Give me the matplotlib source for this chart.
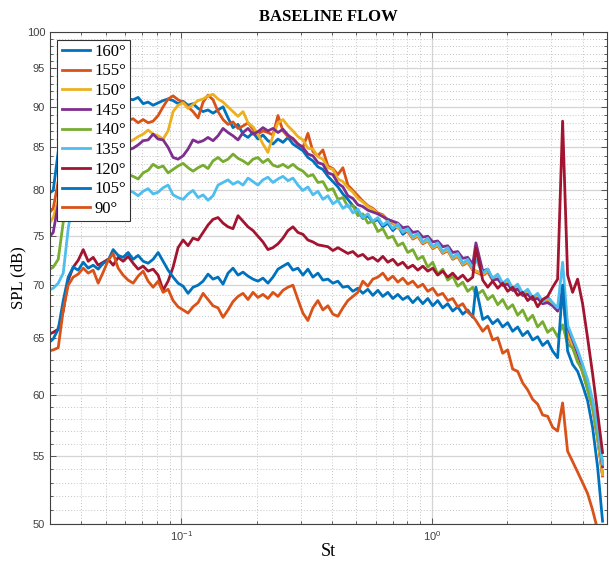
import matplotlib.pyplot as plt
import numpy as np
from matplotlib.ticker import FixedLocator, FixedFormatter, NullFormatter, LogLocator

plt.rcParams['font.family'] = ['Liberation Sans', 'DejaVu Sans']
plt.rcParams['mathtext.default'] = 'regular'

# Strouhal number grid
st = [0.02952, 0.03090, 0.03236, 0.03388, 0.03546, 0.03713, 0.03887, 0.04071, 0.04261, 0.04461,
      0.04670, 0.04890, 0.05120, 0.05360, 0.05610, 0.05873, 0.06150, 0.06438, 0.06741, 0.07057,
      0.07388, 0.07735, 0.08099, 0.08478, 0.08876, 0.09292, 0.09728, 0.1019, 0.1066, 0.1116,
      0.1169, 0.1224, 0.1281, 0.1341, 0.1404, 0.1470, 0.1539, 0.1611, 0.1687, 0.1766,
      0.1849, 0.1936, 0.2026, 0.2121, 0.2221, 0.2325, 0.2435, 0.2549, 0.2669, 0.2794,
      0.2925, 0.3062, 0.3206, 0.3356, 0.3514, 0.3679, 0.3852, 0.4033, 0.4222, 0.4420,
      0.4627, 0.4845, 0.5072, 0.5310, 0.5559, 0.5820, 0.6094, 0.6379, 0.6679, 0.6993,
      0.7321, 0.7665, 0.8024, 0.8401, 0.8795, 0.9207, 0.9640, 1.009, 1.056, 1.106,
      1.158, 1.212, 1.269, 1.329, 1.391, 1.457, 1.500, 1.597, 1.672, 1.750,
      1.833, 1.918, 2.008, 2.102, 2.201, 2.305, 2.413, 2.526, 2.645, 2.769,
      2.899, 3.035, 3.177, 3.326, 3.482, 3.646, 3.817, 3.996, 4.183, 4.380,
      4.586, 4.800]

spl_160 = [79.6, 80.0, 84.5, 88.5, 90.0, 90.6, 90.2, 90.8, 90.4, 90.9,
           90.3, 90.7, 90.5, 91.0, 90.6, 90.8, 91.0, 90.9, 91.2, 90.4,
           90.6, 90.2, 90.5, 90.8, 91.0, 90.8, 90.4, 90.7, 90.2, 90.4,
           89.8, 89.4, 89.6, 89.2, 89.6, 90.0, 88.6, 87.4, 87.8, 86.6,
           86.2, 86.8, 86.0, 86.5, 85.8, 85.4, 86.0, 85.6, 86.2, 85.4,
           85.0, 84.6, 83.8, 83.4, 82.7, 82.4, 81.6, 81.0, 80.4, 79.6,
           79.0, 78.3, 77.8, 76.9, 77.2, 76.5, 76.8, 76.0, 76.4, 75.6,
           76.1, 75.2, 75.6, 74.8, 75.1, 74.3, 74.6, 73.8, 74.1, 73.3,
           73.6, 72.7, 73.0, 72.1, 72.4, 71.6, 71.4, 71.1, 71.4, 70.6,
           70.9, 70.1, 70.4, 69.6, 69.9, 69.1, 69.4, 68.7, 69.0, 68.3,
           68.7, 68.2, 67.6, 68.8, 65.4, 64.2, 63.2, 62.0, 60.6, 59.0,
           56.5, 53.6]

spl_155 = [77.4, 78.0, 81.0, 85.0, 86.5, 87.2, 87.8, 88.6, 88.0, 88.8,
           88.2, 89.0, 88.4, 88.9, 88.2, 88.6, 88.3, 88.5, 88.0, 88.4,
           88.0, 88.2, 88.9, 90.0, 91.0, 91.4, 90.9, 90.6, 90.0, 89.4,
           88.6, 90.6, 91.5, 90.9, 89.4, 88.4, 87.8, 88.1, 87.3, 87.6,
           88.0, 87.2, 86.6, 87.0, 86.8, 86.5, 88.9, 87.0, 86.3, 86.1,
           85.4, 85.0, 86.7, 84.5, 84.0, 84.7, 82.8, 82.5, 81.8, 82.6,
           80.6, 80.0, 79.4, 78.8, 78.3, 78.0, 77.5, 77.3, 76.7, 76.4,
           75.9, 75.5, 75.5, 74.7, 75.0, 74.2, 74.5, 73.7, 74.0, 73.2,
           73.5, 72.6, 72.9, 72.0, 72.3, 71.5, 71.3, 71.0, 71.3, 70.5,
           70.8, 70.0, 70.3, 69.5, 69.8, 69.0, 69.3, 68.6, 68.9, 68.2,
           68.6, 68.1, 67.5, 69.0, 65.3, 64.1, 63.1, 61.9, 60.5, 58.9,
           56.4, 53.5]

spl_150 = [76.2, 77.0, 79.0, 82.0, 83.5, 84.2, 83.6, 84.4, 83.8, 84.5,
           84.0, 84.6, 84.8, 85.2, 85.0, 85.4, 85.6, 85.9, 86.3, 86.6,
           87.1, 86.6, 86.4, 86.0, 87.0, 89.4, 90.2, 90.5, 89.8, 90.3,
           90.8, 91.0, 91.4, 91.6, 91.0, 90.6, 90.0, 89.4, 88.8, 89.4,
           88.0, 87.5, 86.6, 85.4, 84.4, 86.4, 88.0, 88.4, 87.6, 87.0,
           86.3, 85.9, 84.9, 84.8, 83.9, 83.6, 82.6, 82.4, 81.3, 81.0,
           80.3, 79.8, 79.1, 78.7, 78.2, 77.9, 77.4, 77.2, 76.6, 76.5,
           75.9, 75.6, 75.6, 74.8, 75.1, 74.3, 74.6, 73.8, 74.1, 73.3,
           73.6, 72.7, 73.0, 72.1, 72.4, 71.6, 71.4, 71.1, 71.4, 70.6,
           70.9, 70.1, 70.4, 69.6, 69.9, 69.1, 69.4, 68.7, 69.0, 68.3,
           68.7, 68.2, 67.6, 69.0, 65.5, 64.3, 63.2, 62.0, 60.6, 59.0,
           56.5, 53.6]

spl_145 = [74.8, 75.4, 78.5, 83.0, 84.5, 84.8, 85.3, 84.6, 85.1, 84.4,
           85.0, 84.5, 85.2, 84.7, 85.0, 84.3, 84.7, 84.9, 85.3, 85.8,
           85.9, 86.6, 86.0, 85.9, 85.0, 83.8, 83.6, 84.0, 84.8, 85.9,
           85.6, 85.8, 86.2, 85.8, 86.4, 87.3, 86.8, 86.4, 85.9, 86.8,
           87.3, 86.6, 86.9, 87.4, 87.0, 87.3, 86.8, 87.2, 86.5, 86.0,
           85.4, 85.0, 84.2, 84.0, 83.2, 83.0, 82.0, 81.8, 80.8, 80.4,
           79.4, 79.1, 78.4, 78.2, 77.8, 77.6, 77.4, 77.1, 76.8, 76.6,
           76.4, 75.9, 76.0, 75.4, 75.5, 74.9, 75.0, 74.4, 74.5, 73.9,
           74.0, 73.3, 73.4, 72.7, 72.8, 72.1, 74.3, 71.4, 71.6, 70.5,
           70.6, 70.0, 70.1, 69.5, 69.6, 69.0, 69.1, 68.6, 68.7, 68.2,
           68.3, 68.0, 67.5, 69.5, 66.0, 64.8, 63.6, 62.3, 61.0, 59.3,
           57.0, 54.2]

spl_140 = [71.5, 71.8, 72.6, 76.5, 80.5, 81.5, 82.0, 82.4, 81.8, 82.3,
           81.6, 82.1, 81.7, 82.2, 81.9, 82.4, 81.8, 81.6, 81.3, 82.0,
           82.3, 83.0, 82.6, 82.8, 82.0, 82.4, 82.8, 83.1, 82.6, 82.2,
           82.6, 82.9, 82.5, 83.4, 83.8, 83.3, 83.6, 84.2, 83.7, 83.4,
           83.0, 83.6, 83.8, 83.2, 83.6, 82.9, 82.7, 83.0, 82.6, 83.0,
           82.5, 82.2, 81.6, 81.8, 80.9, 81.0, 80.0, 80.2, 79.0, 79.2,
           78.2, 78.3, 77.2, 77.4, 76.4, 76.6, 75.5, 75.8, 74.8, 75.0,
           74.0, 74.3, 73.3, 73.6, 72.6, 72.9, 71.8, 72.3, 71.1, 71.6,
           70.5, 70.9, 69.9, 70.3, 69.4, 69.8, 69.0, 69.5, 68.6, 69.0,
           68.1, 68.6, 67.7, 68.1, 67.1, 67.6, 66.6, 67.1, 66.0, 66.5,
           65.5, 65.9, 65.1, 66.2, 64.4, 64.1, 62.8, 62.1, 60.4, 59.1,
           56.6, 54.6]

spl_135 = [69.5, 69.7, 70.2, 71.2, 75.8, 79.2, 79.8, 80.3, 79.7, 80.2,
           79.6, 80.1, 79.8, 80.4, 79.9, 80.3, 80.0, 79.8, 79.4, 79.9,
           80.2, 79.6, 79.8, 80.3, 80.6, 79.5, 79.2, 79.0, 79.6, 80.0,
           79.2, 79.5, 78.9, 79.4, 80.6, 80.9, 81.2, 80.7, 81.0, 80.6,
           81.4, 81.0, 80.6, 81.2, 81.5, 80.9, 81.3, 81.6, 81.1, 81.4,
           80.6, 80.0, 80.4, 79.5, 79.9, 79.0, 79.4, 78.5, 78.9, 78.0,
           78.4, 77.5, 77.9, 77.0, 77.4, 76.6, 77.0, 76.2, 76.6, 75.8,
           76.3, 75.4, 75.8, 74.9, 75.3, 74.4, 74.8, 73.9, 74.3, 73.4,
           73.8, 72.8, 73.2, 72.2, 72.6, 71.7, 72.6, 71.2, 71.6, 70.7,
           71.1, 70.2, 70.6, 69.7, 70.1, 69.2, 69.6, 68.8, 69.2, 68.4,
           68.9, 68.3, 67.8, 72.3, 66.2, 65.0, 63.9, 62.6, 61.3, 59.6,
           57.3, 54.4]

spl_120 = [65.3, 65.5, 65.8, 67.5, 70.5, 71.8, 72.5, 73.6, 72.4, 72.8,
           72.0, 72.3, 72.6, 72.0, 72.8, 72.4, 72.9, 72.2, 71.6, 71.9,
           71.4, 71.6, 71.0, 69.5, 70.4, 71.8, 73.8, 74.6, 74.0, 74.8,
           74.6, 75.4, 76.2, 76.8, 77.0, 76.4, 76.0, 75.8, 77.2, 76.6,
           76.0, 75.6, 75.0, 74.4, 73.6, 73.8, 74.2, 74.8, 75.6, 76.0,
           75.4, 75.2, 74.6, 74.4, 74.1, 74.0, 73.9, 73.5, 73.8, 73.5,
           73.2, 73.4, 72.9, 73.1, 72.6, 72.8, 72.4, 72.9, 72.3, 72.6,
           72.0, 72.3, 71.7, 72.0, 71.5, 71.9, 71.4, 71.7, 71.0, 71.4,
           70.8, 71.2, 70.6, 71.0, 70.4, 70.8, 73.8, 70.5, 69.8, 70.4,
           69.7, 70.2, 69.4, 69.8, 69.0, 69.3, 68.5, 68.9, 67.9, 68.6,
           68.9, 69.8, 70.6, 88.2, 71.0, 69.3, 70.6, 68.2, 65.0, 61.8,
           58.5, 55.3]

spl_105 = [64.5, 64.9, 65.8, 68.5, 70.8, 71.8, 71.5, 72.3, 71.7, 72.0,
           71.6, 72.2, 72.5, 73.6, 73.0, 72.8, 73.3, 72.6, 73.0, 72.4,
           72.2, 72.6, 73.3, 72.4, 71.5, 70.8, 70.2, 69.9, 69.2, 69.8,
           70.0, 70.4, 71.1, 70.6, 70.8, 70.1, 71.2, 71.7, 71.0, 71.3,
           70.9, 70.6, 70.4, 70.7, 70.2, 70.8, 71.6, 71.9, 72.2, 71.5,
           71.7, 71.0, 71.6, 70.8, 71.2, 70.5, 70.6, 70.2, 70.4, 69.8,
           69.9, 69.4, 69.7, 69.2, 69.6, 69.0, 69.5, 68.9, 69.3, 68.7,
           69.1, 68.6, 68.9, 68.3, 68.8, 68.2, 68.7, 68.0, 68.5, 67.8,
           68.2, 67.5, 67.9, 67.2, 67.6, 66.9, 69.8, 66.7, 67.0, 66.3,
           66.7, 66.0, 66.4, 65.6, 66.0, 65.2, 65.6, 64.8, 65.1, 64.3,
           64.7, 63.8, 63.2, 70.0, 63.8, 62.6, 62.0, 60.8, 59.5, 57.3,
           54.2, 50.2]

spl_90 = [63.8, 63.9, 64.1, 67.6, 70.0, 70.8, 71.1, 71.7, 71.2, 71.5,
          70.2, 71.3, 72.5, 73.2, 71.7, 71.0, 70.5, 70.2, 70.9, 71.4,
          70.4, 69.8, 70.4, 69.3, 69.6, 68.5, 67.9, 67.6, 67.3, 67.9,
          68.3, 69.2, 68.6, 68.0, 67.8, 66.9, 67.6, 68.4, 68.9, 69.2,
          68.6, 69.3, 68.8, 69.1, 68.7, 69.3, 68.9, 69.5, 69.8, 70.0,
          68.6, 67.3, 66.6, 67.8, 68.5, 67.6, 68.0, 67.2, 67.0, 67.8,
          68.5, 68.9, 69.3, 70.4, 69.9, 70.6, 70.8, 71.2, 70.5, 70.9,
          70.3, 70.7, 70.1, 70.4, 69.8, 70.1, 69.4, 69.7, 69.0, 69.2,
          68.5, 68.7, 67.9, 68.2, 67.4, 67.0, 66.6, 65.6, 66.1, 64.8,
          65.0, 63.6, 63.9, 62.2, 62.0, 61.0, 60.4, 59.6, 59.2, 58.3,
          58.2, 57.3, 57.0, 59.3, 55.4, 54.6, 53.8, 53.0, 52.2, 51.0,
          49.6, 48.6]

labels = ['160°', '155°', '150°', '145°', '140°', '135°', '120°', '105°', '90°']
colors = ['#0072BD', '#D95319', '#EDB120', '#7E2F8E', '#77AC30',
          '#4DBEEE', '#A2142F', '#0072BD', '#D95319']
series = [spl_160, spl_155, spl_150, spl_145, spl_140, spl_135, spl_120, spl_105, spl_90]

y_ticks = [50, 55, 60, 65, 70, 75, 80, 85, 90, 95, 100]
y_minor = [v for v in range(51, 100) if v % 5 != 0]

fig = plt.figure(figsize=(6.09, 5.62), dpi=100)
ax = fig.add_axes([0.0821, 0.0676, 0.9146, 0.8754])

for vals, lab, col in zip(series, labels, colors):
    ax.plot(st, vals, color=col, lw=2.0, label=lab)

ax.set_xscale('log')
ax.set_yscale('log')
ax.set_xlim(0.03, 5)
ax.set_ylim(50, 100)

ax.yaxis.set_major_locator(FixedLocator(y_ticks))
ax.yaxis.set_major_formatter(FixedFormatter([str(v) for v in y_ticks]))
ax.yaxis.set_minor_locator(FixedLocator(y_minor))
ax.yaxis.set_minor_formatter(NullFormatter())
ax.xaxis.set_major_locator(LogLocator(base=10))
ax.xaxis.set_minor_locator(LogLocator(base=10, subs=np.arange(2, 10)))
ax.xaxis.set_minor_formatter(NullFormatter())

ax.grid(which='major', color='#d4d4d4', lw=0.9, ls='-')
ax.grid(which='minor', color='#c4c4c4', lw=0.7, ls=(0, (1, 2)))
ax.set_axisbelow(True)
ax.tick_params(which='both', direction='in', top=True, right=True,
               colors='#404040', labelsize=8, width=0.6)
ax.tick_params(which='major', length=4)
ax.tick_params(which='minor', length=2.5)
for sp in ax.spines.values():
    sp.set_color('#404040')
    sp.set_linewidth(0.8)

ax.set_title('BASELINE FLOW', fontfamily='Liberation Serif', fontweight='bold',
             fontsize=12, pad=8)
ax.set_xlabel('St', fontfamily='Liberation Serif', fontsize=13, labelpad=0)
ax.set_ylabel('SPL (dB)', fontfamily='Liberation Serif', fontsize=12, labelpad=0)

leg = ax.legend(loc='upper left', prop={'family': 'Liberation Serif', 'size': 12},
                fancybox=False, framealpha=1, edgecolor='#333333',
                borderaxespad=0.45, borderpad=0.25, handlelength=1.7,
                handletextpad=0.25, labelspacing=0.22)
leg.get_frame().set_linewidth(0.8)
for line in leg.get_lines():
    line.set_linewidth(2.0)

fig.savefig('out.png', dpi=100)
